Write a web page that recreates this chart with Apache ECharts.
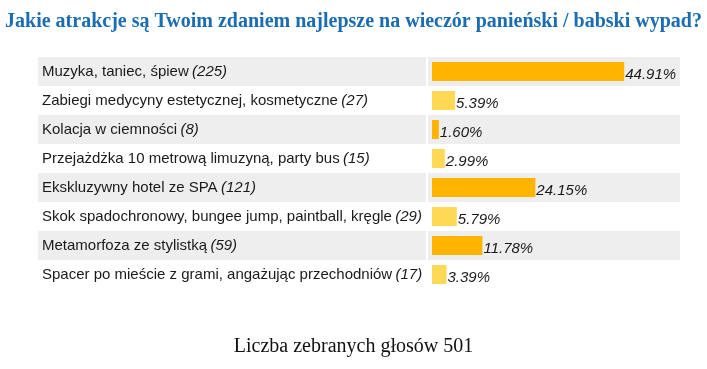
<!DOCTYPE html>
<html>
<head>
<meta charset="utf-8">
<script src="https://cdn.jsdelivr.net/npm/echarts@6/dist/echarts.min.js"></script>
<style>
html,body{margin:0;padding:0;background:#fff;}
#chart{width:707px;height:369px;}
</style>
</head>
<body>
<div id="chart"></div>
<script>
const titleText = 'Jakie atrakcje są Twoim zdaniem najlepsze na wieczór panieński / babski wypad?';
const footerText = 'Liczba zebranych głosów 501';
const categories = [
  'Muzyka, taniec, śpiew',
  'Zabiegi medycyny estetycznej, kosmetyczne',
  'Kolacja w ciemności',
  'Przejażdżka 10 metrową limuzyną, party bus',
  'Ekskluzywny hotel ze SPA',
  'Skok spadochronowy, bungee jump, paintball, kręgle',
  'Metamorfoza ze stylistką',
  'Spacer po mieście z grami, angażując przechodniów'
];
const votes = [225, 27, 8, 15, 121, 29, 59, 17];
const percents = [44.91, 5.39, 1.60, 2.99, 24.15, 5.79, 11.78, 3.39];
const barColors = ['#ffb400', '#ffd955'];

const chart = echarts.init(document.getElementById('chart'), null, {renderer: 'canvas'});
const sans = '"Liberation Sans", Arial, sans-serif';
const serif = '"Liberation Serif", "Times New Roman", serif';
const gridTop = 57, gridH = 232;

chart.setOption({
  animation: false,
  backgroundColor: '#ffffff',
  title: [
    {text: titleText, left: 'center', top: 7,
     textStyle: {fontFamily: serif, fontWeight: 'bold', fontSize: 20, color: '#1a6db3'}},
    {text: footerText, left: 'center', top: 332,
     textStyle: {fontFamily: serif, fontWeight: 'normal', fontSize: 20, color: '#111111'}}
  ],
  grid: [
    {left: 38, top: gridTop, width: 388, height: gridH},
    {left: 428, top: gridTop, width: 252, height: gridH}
  ],
  xAxis: [
    {gridIndex: 0, type: 'value', min: 0, max: 1, show: false},
    {gridIndex: 1, type: 'value', min: -0.935, max: 57.94, show: false}
  ],
  yAxis: [
    {gridIndex: 0, type: 'category', inverse: true, data: categories,
     axisLine: {show: false}, axisTick: {show: false},
     splitArea: {show: true, areaStyle: {color: ['#eeeeee', '#ffffff']}},
     axisLabel: {
       inside: true, margin: 4, align: 'left',
       formatter: function (v, i) { return '{n|' + v + '} {c|(' + votes[i] + ')}'; },
       rich: {
         n: {fontFamily: sans, fontSize: 15, color: '#1a1a1a'},
         c: {fontFamily: sans, fontSize: 15, color: '#1a1a1a', fontStyle: 'italic'}
       }
     }},
    {gridIndex: 1, type: 'category', inverse: true, data: categories,
     axisLine: {show: false}, axisTick: {show: false}, axisLabel: {show: false},
     splitArea: {show: true, areaStyle: {color: ['#eeeeee', '#ffffff']}}}
  ],
  series: [{
    type: 'bar', xAxisIndex: 1, yAxisIndex: 1,
    barWidth: 19,
    data: percents.map(function (p, i) {
      return {value: p, itemStyle: {color: barColors[i % 2]}};
    }),
    label: {
      show: true, position: 'right', distance: 1,
      fontFamily: sans, fontSize: 15, fontStyle: 'italic', color: '#1a1a1a',
      offset: [0, 3],
      formatter: function (p) { return p.value.toFixed(2) + '%'; }
    }
  }]
});
</script>
</body>
</html>
